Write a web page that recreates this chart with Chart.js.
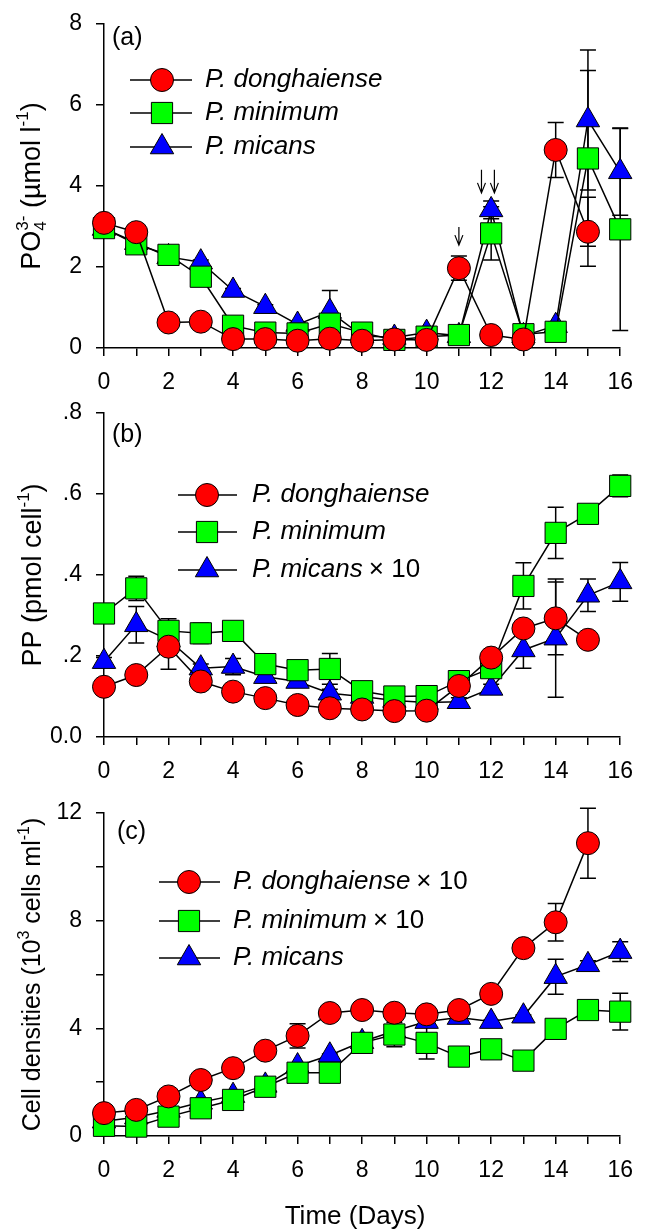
<!DOCTYPE html>
<html>
<head>
<meta charset="utf-8">
<script src="https://cdn.jsdelivr.net/npm/chart.js@4.4.0/dist/chart.umd.min.js"></script>
<style>
  html, body { margin: 0; padding: 0; background: #fff; }
  #wrap { position: relative; width: 646px; height: 1232px; overflow: hidden; }
  canvas { position: absolute; left: 0; }
</style>
</head>
<body>
<div id="wrap">
  <canvas id="chartA" width="646" height="406" style="top:-6px"></canvas>
  <canvas id="chartB" width="646" height="417" style="top:383px"></canvas>
  <canvas id="chartC" width="646" height="449" style="top:783px"></canvas>
</div>
<script>
// sampling days
const days = [0, 1, 2, 3, 4, 5, 6, 7, 8, 9, 10, 11, 12, 13, 14, 15, 16];

// (a) PO4 3- (umol l-1)
const poDong    = [3.09, 2.86, 0.63, 0.65, 0.22, 0.22, 0.18, 0.23, 0.18, 0.21, 0.20, 1.97, 0.32, 0.21, 4.89, 2.87, null];
const poDongErr = [0.10, 0.05, 0.05, 0.05, 0.03, 0.03, 0.03, 0.03, 0.03, 0.03, 0.03, 0.30, 0.05, 0.03, 0.68, 0.85, null];
const poMin     = [2.96, 2.56, 2.30, 1.76, 0.55, 0.38, 0.36, 0.60, 0.38, 0.20, 0.28, 0.32, 2.83, 0.34, 0.40, 4.68, 2.93];
const poMinErr  = [0.15, 0.05, 0.05, 0.05, 0.05, 0.05, 0.05, 0.05, 0.05, 0.05, 0.05, 0.05, 0.66, 0.05, 0.10, 2.17, 2.50];
const poMic     = [2.95, 2.60, 2.25, 2.12, 1.42, 1.02, 0.58, 0.90, 0.30, 0.26, 0.38, 0.30, 3.41, 0.30, 0.55, 5.63, 4.35];
const poMicErr  = [0.10, 0.05, 0.05, 0.05, 0.05, 0.05, 0.05, 0.52, 0.05, 0.05, 0.05, 0.05, 0.22, 0.05, 0.10, 1.73, 1.07];

// (b) PP (pmol cell-1)
const ppDong    = [0.124, 0.153, 0.223, 0.137, 0.112, 0.096, 0.079, 0.071, 0.068, 0.064, 0.065, 0.126, 0.196, 0.268, 0.293, 0.240, null];
const ppDongErr = [0.010, 0.010, 0.056, 0.010, 0.010, 0.010, 0.010, 0.010, 0.010, 0.010, 0.010, 0.010, 0.010, 0.015, 0.090, 0.010, null];
const ppMin     = [0.305, 0.367, 0.262, 0.256, 0.262, 0.180, 0.165, 0.168, 0.113, 0.100, 0.101, 0.138, 0.170, 0.373, 0.504, 0.551, 0.620];
const ppMinErr  = [0.015, 0.030, 0.030, 0.025, 0.010, 0.020, 0.010, 0.038, 0.010, 0.010, 0.010, 0.010, 0.010, 0.057, 0.063, 0.010, 0.027];
const ppMic     = [0.186, 0.277, 0.240, 0.170, 0.174, 0.149, 0.137, 0.108, 0.100, 0.090, 0.085, 0.087, 0.120, 0.215, 0.244, 0.350, 0.383];
const ppMicErr  = [0.010, 0.045, 0.020, 0.010, 0.020, 0.010, 0.010, 0.010, 0.010, 0.010, 0.010, 0.010, 0.010, 0.045, 0.146, 0.040, 0.048];

// (c) cell densities (10^3 cells ml-1)
const cdDong    = [0.85, 0.97, 1.47, 2.08, 2.52, 3.17, 3.72, 4.57, 4.68, 4.58, 4.52, 4.68, 5.28, 6.98, 7.94, 10.88, null];
const cdDongErr = [0.05, 0.05, 0.05, 0.05, 0.05, 0.05, 0.45, 0.10, 0.10, 0.10, 0.10, 0.10, 0.10, 0.15, 0.70, 1.30, null];
const cdMin     = [0.38, 0.35, 0.72, 1.03, 1.34, 1.83, 2.35, 2.35, 3.46, 3.77, 3.46, 2.95, 3.22, 2.80, 3.98, 4.68, 4.62];
const cdMinErr  = [0.05, 0.05, 0.05, 0.05, 0.05, 0.05, 0.05, 0.05, 0.10, 0.45, 0.60, 0.10, 0.15, 0.05, 0.05, 0.20, 0.68];
const cdMic     = [0.55, 0.70, 0.95, 1.25, 1.50, 1.88, 2.60, 3.00, 3.50, 3.90, 4.25, 4.40, 4.25, 4.45, 5.92, 6.36, 6.85];
const cdMicErr  = [0.05, 0.05, 0.05, 0.05, 0.05, 0.05, 0.05, 0.05, 0.05, 0.05, 0.05, 0.05, 0.05, 0.05, 0.65, 0.15, 0.37];

// arrows in (a): [day, from, to]
const arrowsA = [[11, 2.99, 2.54], [11.7, 4.40, 3.83], [12.1, 4.40, 3.83]];

const FONT = '"Liberation Sans", Arial, sans-serif';
const RED = '#ff0000', GREEN = '#00ff00', BLUE = '#0000ff';
const MARK = { circle: 11.5, rect: 15, triangle: 13.5 };

Chart.defaults.font.family = FONT;
Chart.defaults.color = '#000';
Chart.defaults.animation = false;

function pts(vals) {
    return days.map((d, i) => ({ x: d, y: vals[i] })).filter(p => p.y !== null);
}

function series(label, vals, errs, color, style) {
    return {
        label: label,
        data: pts(vals),
        vals: vals,
        errors: errs,
        borderColor: '#000',
        borderWidth: 1.5,
        backgroundColor: color,
        pointBackgroundColor: color,
        pointBorderColor: '#000',
        pointBorderWidth: 1,
        pointStyle: style,
        pointRadius: MARK[style],
        pointHoverRadius: MARK[style],
        tension: 0,
        fill: false,
        clip: false
    };
}

function marker(ctx, style, color, x, y) {
    const r = MARK[style];
    ctx.beginPath();
    if (style === 'circle') {
        ctx.arc(x, y, r, 0, Math.PI * 2);
    } else if (style === 'rect') {
        const s = r * Math.SQRT1_2;
        ctx.rect(x - s, y - s, 2 * s, 2 * s);
    } else {
        ctx.moveTo(x, y - r);
        ctx.lineTo(x + r * Math.sin(Math.PI * 2 / 3), y - r * Math.cos(Math.PI * 2 / 3));
        ctx.lineTo(x + r * Math.sin(Math.PI * 4 / 3), y - r * Math.cos(Math.PI * 4 / 3));
        ctx.closePath();
    }
    ctx.fillStyle = color;
    ctx.fill();
    ctx.lineWidth = 1;
    ctx.strokeStyle = '#000';
    ctx.stroke();
}

// error bars drawn under the series
const errorBars = {
    id: 'errorBars',
    beforeDatasetsDraw(chart) {
        const ctx = chart.ctx, xs = chart.scales.x, ys = chart.scales.y;
        ctx.save();
        ctx.strokeStyle = '#000';
        ctx.lineWidth = 1.5;
        chart.data.datasets.forEach(ds => {
            days.forEach((d, i) => {
                const v = ds.vals[i], e = ds.errors[i];
                if (v === null || !e) return;
                const px = xs.getPixelForValue(d);
                const t = ys.getPixelForValue(v + e), b = ys.getPixelForValue(Math.max(v - e, 0));
                ctx.beginPath();
                ctx.moveTo(px, t); ctx.lineTo(px, b);
                ctx.moveTo(px - 8, t); ctx.lineTo(px + 8, t);
                ctx.moveTo(px - 8, b); ctx.lineTo(px + 8, b);
                ctx.stroke();
            });
        });
        ctx.restore();
    }
};

// titles, panel letter, legend, arrows (positions given in page pixels)
function decor(cfg) {
    return {
        id: 'decor',
        afterDatasetsDraw(chart) {
            const ctx = chart.ctx, area = chart.chartArea;
            const off = cfg.canvasTop;
            ctx.save();
            ctx.fillStyle = '#000';

            // panel letter
            ctx.font = '25px ' + FONT;
            ctx.textAlign = 'left';
            ctx.textBaseline = 'middle';
            ctx.fillText(cfg.letter, cfg.letterPos[0], cfg.letterPos[1] - off);

            // y title with sub/superscripts
            ctx.save();
            ctx.translate(cfg.yTitleX, (area.top + area.bottom) / 2);
            ctx.rotate(-Math.PI / 2);
            ctx.textBaseline = 'alphabetic';
            const base = cfg.yTitleSize * 0.36;
            const width = g => {
                const parts = Array.isArray(g) ? g : [g];
                return Math.max(...parts.map(p => { ctx.font = p.size + 'px ' + FONT; return ctx.measureText(p.t).width; }));
            };
            const total = cfg.yTitle.reduce((s, g) => s + width(g), 0);
            let x = -total / 2;
            cfg.yTitle.forEach(g => {
                const w = width(g);
                (Array.isArray(g) ? g : [g]).forEach(p => {
                    ctx.font = p.size + 'px ' + FONT;
                    ctx.fillText(p.t, x, base + (p.dy || 0));
                });
                x += w;
            });
            ctx.restore();

            // x title
            if (cfg.xTitle) {
                ctx.font = cfg.xTitle.size + 'px ' + FONT;
                ctx.textAlign = 'center';
                ctx.textBaseline = 'middle';
                ctx.fillText(cfg.xTitle.t, cfg.xTitle.x, cfg.xTitle.y - off);
            }

            // legend
            const L = cfg.legend;
            cfg.legendItems.forEach((it, i) => {
                const y = L.rows[i] - off;
                ctx.strokeStyle = '#000';
                ctx.lineWidth = 1.5;
                ctx.beginPath();
                ctx.moveTo(L.x1, y); ctx.lineTo(L.x2, y);
                ctx.stroke();
                marker(ctx, it.style, it.color, L.mx, y);
                ctx.fillStyle = '#000';
                ctx.textAlign = 'left';
                ctx.textBaseline = 'middle';
                ctx.font = 'italic 26px ' + FONT;
                ctx.fillText(it.name, L.tx, y);
                if (it.extra) {
                    const w = ctx.measureText(it.name).width;
                    ctx.font = '26px ' + FONT;
                    ctx.fillText(it.extra, L.tx + w + 6, y);
                }
            });

            // arrows
            if (cfg.arrows) {
                const xs = chart.scales.x, ys = chart.scales.y;
                ctx.strokeStyle = '#000';
                ctx.lineWidth = 1.2;
                cfg.arrows.forEach(a => {
                    const px = xs.getPixelForValue(a[0]);
                    const y1 = ys.getPixelForValue(a[1]), y2 = ys.getPixelForValue(a[2]);
                    ctx.beginPath();
                    ctx.moveTo(px, y1); ctx.lineTo(px, y2);
                    ctx.moveTo(px - 4, y2 - 10); ctx.lineTo(px, y2); ctx.lineTo(px + 4, y2 - 10);
                    ctx.stroke();
                });
            }
            ctx.restore();
        }
    };
}

function makePanel(id, datasets, yOpts, box, cfg) {
    const canvas = document.getElementById(id);
    return new Chart(canvas.getContext('2d'), {
        type: 'line',
        data: { datasets: datasets },
        options: {
            responsive: false,
            layout: { padding: { left: 0, right: 19, top: 30, bottom: 0 } },
            plugins: { legend: { display: false }, tooltip: { enabled: false } },
            scales: {
                x: {
                    type: 'linear', min: 0, max: 16,
                    border: { color: '#000', width: 1.5 },
                    grid: { drawOnChartArea: false, color: '#000', lineWidth: 1.5, tickLength: 8 },
                    ticks: {
                        stepSize: 1, autoSkip: false, maxRotation: 0, padding: 13,
                        font: { size: 23 }, color: '#000',
                        callback: v => (v % 2 === 0 ? String(v) : '')
                    },
                    afterFit: s => { s.height = box.xHeight; }
                },
                y: {
                    min: yOpts.min, max: yOpts.max,
                    border: { color: '#000', width: 1.5 },
                    grid: { drawOnChartArea: false, color: '#000', lineWidth: 1.5, tickLength: 8 },
                    ticks: {
                        stepSize: yOpts.step, autoSkip: false, padding: 14,
                        font: { size: 23 }, color: '#000',
                        callback: yOpts.label
                    },
                    afterFit: s => { s.width = 104; }
                }
            }
        },
        plugins: [errorBars, decor(cfg)]
    });
}

// (a)
makePanel('chartA', [
    series('P. donghaiense', poDong, poDongErr, RED, 'circle'),
    series('P. minimum', poMin, poMinErr, GREEN, 'rect'),
    series('P. micans', poMic, poMicErr, BLUE, 'triangle')
], { min: 0, max: 8, step: 2, label: v => String(v) },
{ xHeight: 52 },
{
    canvasTop: -6,
    letter: '(a)', letterPos: [112, 38],
    yTitleX: 30, yTitleSize: 27,
    yTitle: [
        { t: 'PO', size: 27 },
        [{ t: '4', size: 17, dy: 6 }, { t: '3-', size: 17, dy: -12 }],
        { t: ' (\u00b5mol l', size: 27 },
        { t: '-1', size: 17, dy: -12 },
        { t: ')', size: 27 }
    ],
    legend: { x1: 130, x2: 192, mx: 162, tx: 205, rows: [80, 113, 147] },
    legendItems: [
        { name: 'P. donghaiense', style: 'circle', color: RED },
        { name: 'P. minimum', style: 'rect', color: GREEN },
        { name: 'P. micans', style: 'triangle', color: BLUE }
    ],
    arrows: arrowsA
});

// (b)
makePanel('chartB', [
    series('P. donghaiense', ppDong, ppDongErr, RED, 'circle'),
    series('P. minimum', ppMin, ppMinErr, GREEN, 'rect'),
    series('P. micans x 10', ppMic, ppMicErr, BLUE, 'triangle')
], { min: 0, max: 0.8, step: 0.2, label: v => (v === 0 ? '0.0' : v.toFixed(1).replace(/^0/, '')) },
{ xHeight: 63 },
{
    canvasTop: 383,
    letter: '(b)', letterPos: [112, 435],
    yTitleX: 31, yTitleSize: 27,
    yTitle: [
        { t: 'PP (pmol cell', size: 27 },
        { t: '-1', size: 17, dy: -12 },
        { t: ')', size: 27 }
    ],
    legend: { x1: 178, x2: 237, mx: 207, tx: 252, rows: [495, 532, 570] },
    legendItems: [
        { name: 'P. donghaiense', style: 'circle', color: RED },
        { name: 'P. minimum', style: 'rect', color: GREEN },
        { name: 'P. micans', extra: '\u00d7 10', style: 'triangle', color: BLUE }
    ]
});

// (c)
makePanel('chartC', [
    series('P. donghaiense x 10', cdDong, cdDongErr, RED, 'circle'),
    series('P. minimum x 10', cdMin, cdMinErr, GREEN, 'rect'),
    series('P. micans', cdMic, cdMicErr, BLUE, 'triangle')
], { min: 0, max: 12, step: 2, label: v => (v % 4 === 0 ? String(v) : '') },
{ xHeight: 96 },
{
    canvasTop: 783,
    letter: '(c)', letterPos: [117, 832],
    yTitleX: 31, yTitleSize: 25,
    yTitle: [
        { t: 'Cell densities (10', size: 25 },
        { t: '3', size: 16, dy: -11 },
        { t: ' cells ml', size: 25 },
        { t: '-1', size: 16, dy: -11 },
        { t: ')', size: 25 }
    ],
    xTitle: { t: 'Time (Days)', size: 26, x: 355, y: 1217 },
    legend: { x1: 159, x2: 220, mx: 189, tx: 233, rows: [882, 921, 958] },
    legendItems: [
        { name: 'P. donghaiense', extra: '\u00d7 10', style: 'circle', color: RED },
        { name: 'P. minimum', extra: '\u00d7 10', style: 'rect', color: GREEN },
        { name: 'P. micans', style: 'triangle', color: BLUE }
    ]
});
</script>
</body>
</html>
